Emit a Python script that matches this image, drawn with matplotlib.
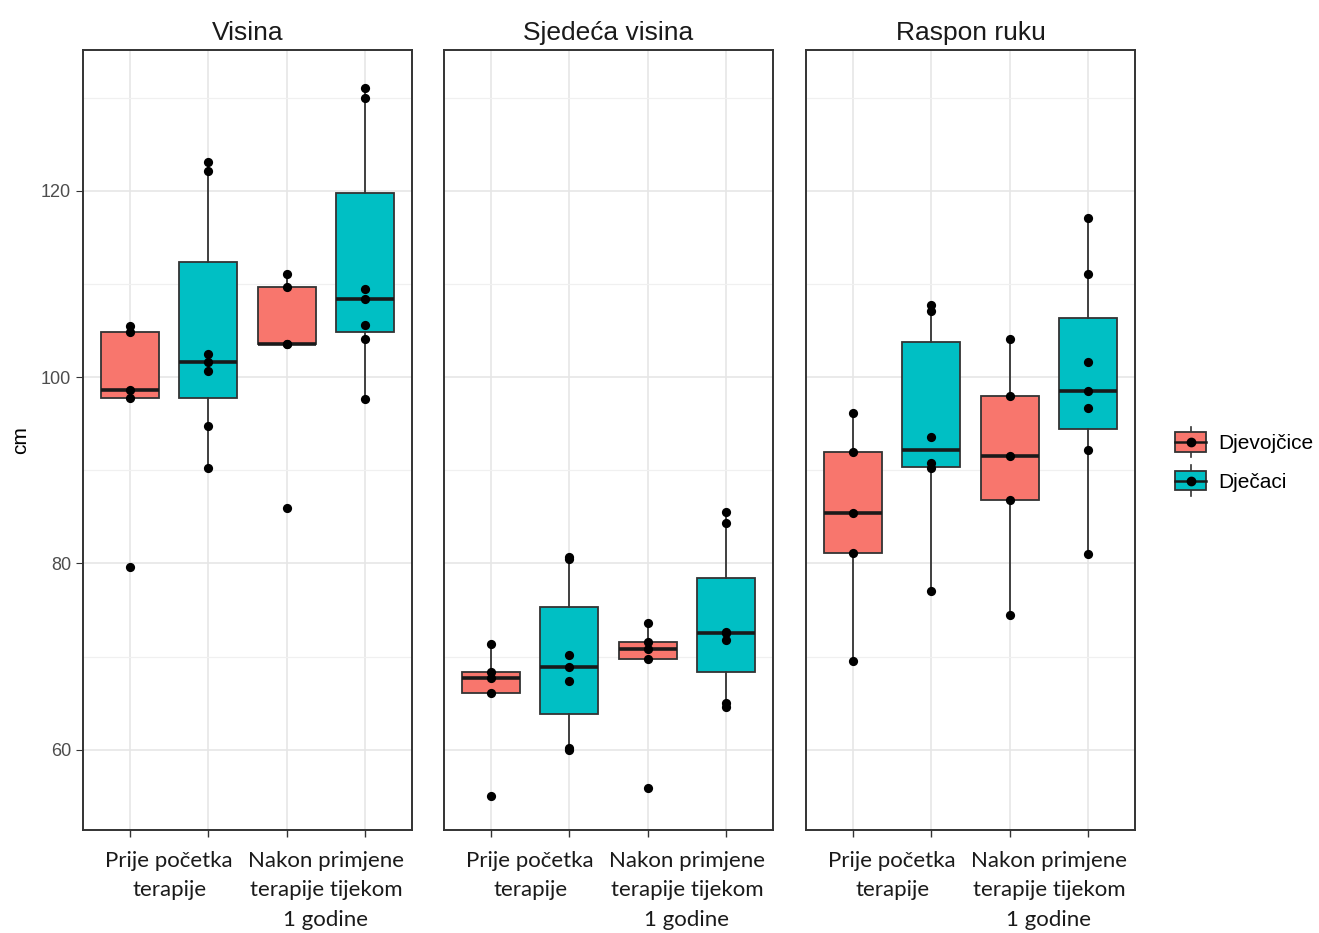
import numpy as np
import matplotlib.pyplot as plt
from matplotlib.legend_handler import HandlerBase
from matplotlib.patches import Rectangle, Patch
from matplotlib.lines import Line2D

panels = ['Visina', 'Sjedeća visina', 'Raspon ruku']
groups = ['Djevojčice', 'Dječaci']
colors = ['#F8766D', '#00BFC4']
time_labels = ['Prije početka\nterapije', 'Nakon primjene\nterapije tijekom\n1 godine']

# values (cm); order in each panel:
# girls before, boys before, girls after, boys after
visina_g_before = [79.6, 97.8, 98.6, 104.8, 105.5]
visina_b_before = [90.2, 94.8, 100.7, 101.6, 102.5, 122.1, 123.1]
visina_g_after = [86.0, 103.5, 103.6, 109.7, 111.1]
visina_b_after = [97.6, 104.1, 105.6, 108.4, 109.5, 130.0, 131.0]

sjed_g_before = [55.0, 66.1, 67.7, 68.4, 71.4]
sjed_b_before = [60.0, 60.2, 67.4, 68.9, 70.2, 80.5, 80.7]
sjed_g_after = [55.9, 69.8, 70.8, 71.6, 73.6]
sjed_b_after = [64.6, 65.0, 71.8, 72.5, 72.6, 84.3, 85.5]

raspon_g_before = [69.5, 81.1, 85.4, 92.0, 96.2]
raspon_b_before = [77.0, 90.2, 90.8, 93.6, 107.1, 107.7]
raspon_g_after = [74.5, 86.8, 91.5, 98.0, 104.1]
raspon_b_after = [81.0, 92.2, 96.7, 98.5, 101.6, 111.1, 117.1]

panel_data = [
    [visina_g_before, visina_b_before, visina_g_after, visina_b_after],
    [sjed_g_before, sjed_b_before, sjed_g_after, sjed_b_after],
    [raspon_g_before, raspon_b_before, raspon_g_after, raspon_b_after],
]
positions = [1, 2, 3, 4]
box_colors = [colors[0], colors[1], colors[0], colors[1]]

edge = '#333333'

fig = plt.figure(figsize=(13.19, 9.33), dpi=100)
lefts = [83, 444, 806]
axes = []
for i, l in enumerate(lefts):
    ax = fig.add_axes([l / 1319, 1 - 830 / 933, 329 / 1319, 780 / 933],
                      sharey=axes[0] if axes else None)
    axes.append(ax)

for i, ax in enumerate(axes):
    data = panel_data[i]
    bp = ax.boxplot(data, positions=positions, widths=0.74, patch_artist=True,
                    showcaps=False, showfliers=False, zorder=2,
                    boxprops=dict(edgecolor=edge, linewidth=1.3),
                    whiskerprops=dict(color=edge, linewidth=1.3),
                    medianprops=dict(color='#1a1a1a', linewidth=2.6))
    for patch, c in zip(bp['boxes'], box_colors):
        patch.set_facecolor(c)
    for p, vals in zip(positions, data):
        ax.scatter([p] * len(vals), vals, s=44, color='black', zorder=3, linewidths=0)

    ax.set_xlim(0.4, 4.6)
    ax.set_ylim(51.4, 135.1)
    ax.set_xticks(positions)
    ax.set_xticklabels([])
    ax.set_xticks([1.5, 3.5], minor=True)
    ax.set_xticklabels(time_labels, minor=True, fontsize=16, family='Lato',
                       color='#1a1a1a', va='top', linespacing=1.6)
    ax.tick_params(axis='x', which='major', length=5, color=edge, width=1)
    ax.tick_params(axis='x', which='minor', length=0, pad=15)
    ax.set_yticks([60, 80, 100, 120])
    ax.set_yticks([70, 90, 110, 130], minor=True)
    ax.grid(which='major', color='#e6e6e6', linewidth=1.2, zorder=0)
    ax.grid(which='minor', axis='y', color='#f0f0f0', linewidth=0.9, zorder=0)
    ax.set_axisbelow(True)
    for s in ax.spines.values():
        s.set_color(edge)
        s.set_linewidth(1.4)
    ax.set_title(panels[i], fontsize=19, family='Liberation Sans', pad=7, color='#1a1a1a')
    if i == 0:
        ax.tick_params(axis='y', which='major', labelsize=13, labelcolor='#4d4d4d',
                       length=5, color=edge)
        ax.tick_params(axis='y', which='minor', length=0)
        for t in ax.get_yticklabels():
            t.set_family('Liberation Sans')
        ax.set_ylabel('cm', fontsize=15, family='Liberation Sans', labelpad=8)
    else:
        ax.tick_params(axis='y', which='both', left=False, labelleft=False)


class BoxKey(HandlerBase):
    def create_artists(self, legend, orig_handle, xdescent, ydescent,
                       width, height, fontsize, trans):
        x0, y0 = -xdescent, -ydescent
        cx, cy = x0 + width / 2, y0 + height / 2
        whisk = Line2D([cx, cx], [y0 - 0.3 * height, y0 + 1.3 * height],
                       color=edge, lw=1.2, transform=trans)
        box = Rectangle((x0, y0), width, height, facecolor=orig_handle.get_facecolor(),
                        edgecolor=edge, lw=1.3, transform=trans)
        med = Line2D([x0, x0 + width], [cy, cy], color='#1a1a1a', lw=1.8, transform=trans)
        dot = Line2D([cx], [cy], marker='o', color='black', ms=6, lw=0, transform=trans)
        return [whisk, box, med, dot]


handles = [Patch(facecolor=c) for c in colors]
fig.legend(handles, groups, loc='center left', bbox_to_anchor=(1175 / 1319, 1 - 462 / 933),
           frameon=False, borderpad=0, borderaxespad=0, handler_map={Patch: BoxKey()},
           handlelength=1.5, handleheight=1.05, handletextpad=0.6, labelspacing=0.85,
           prop={'family': 'Liberation Sans', 'size': 15})

fig.savefig('out.png', dpi=100)
